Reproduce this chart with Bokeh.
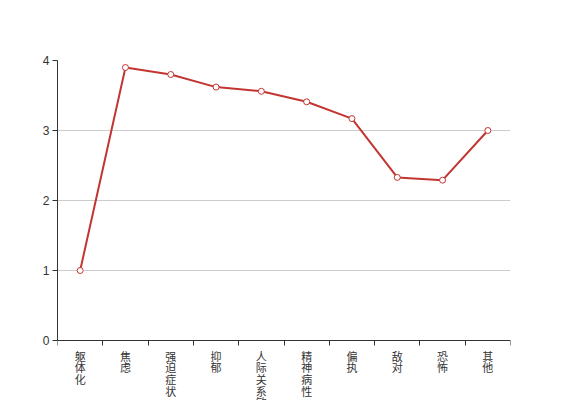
from bokeh.plotting import figure
from bokeh.models import FixedTicker, Range1d
from bokeh.embed import file_html
from bokeh.resources import INLINE

categories = ["躯体化", "焦虑", "强迫症状", "抑郁", "人际关系敏感", "精神病性", "偏执", "敌对", "恐怖", "其他"]
values = [1.0, 3.9, 3.8, 3.62, 3.56, 3.41, 3.17, 2.33, 2.29, 3.0]
y_ticks = [0, 1, 2, 3, 4]

n = len(categories)
xs = [i + 0.5 for i in range(n)]

# frame spans 60..400 px; value 0 sits 60px above the bottom (70 px per unit)
p = figure(width=567, height=400, output_backend="svg", toolbar_location=None,
           x_range=Range1d(0, n), y_range=Range1d(-60 / 70, 4),
           min_border_left=57, min_border_right=57, min_border_top=60, min_border_bottom=0)
p.outline_line_color = None
p.background_fill_color = "white"
p.border_fill_color = "white"

p.xgrid.visible = False
p.ygrid.grid_line_color = "#cccccc"
p.ygrid.ticker = FixedTicker(ticks=y_ticks)

# x axis pinned at y=0, boundary ticks as minor ticks, labels at band centres
xa = p.xaxis[0]
xa.fixed_location = 0
xa.ticker = FixedTicker(ticks=xs, minor_ticks=list(range(n + 1)))
xa.major_label_overrides = {x: "\n".join(list(c)) for x, c in zip(xs, categories)}
xa.major_tick_out = 0
xa.major_tick_in = 0
xa.minor_tick_out = 5
xa.minor_tick_in = 0
xa.minor_tick_line_color = "#333333"
xa.axis_line_color = "#333333"
xa.major_label_text_font = "Noto Sans CJK SC"
xa.major_label_text_font_size = "11px"
xa.major_label_text_color = "#333333"
xa.major_label_standoff = 2
xa.major_label_text_line_height = 0.73

# y axis
ya = p.yaxis[0]
ya.bounds = (0, 4)
ya.ticker = FixedTicker(ticks=y_ticks)
ya.major_tick_out = 5
ya.major_tick_in = 0
ya.minor_tick_line_color = None
ya.axis_line_color = "#333333"
ya.major_tick_line_color = "#333333"
ya.major_label_text_font = "sans-serif"
ya.major_label_text_font_size = "12px"
ya.major_label_text_color = "#333333"
ya.major_label_standoff = 3

p.line(xs, values, line_color="#c23531", line_width=2)
p.scatter(xs, values, size=6, marker="circle", fill_color="white", line_color="#c23531", line_width=1)

open("out.html", "w").write(file_html(p, INLINE))
